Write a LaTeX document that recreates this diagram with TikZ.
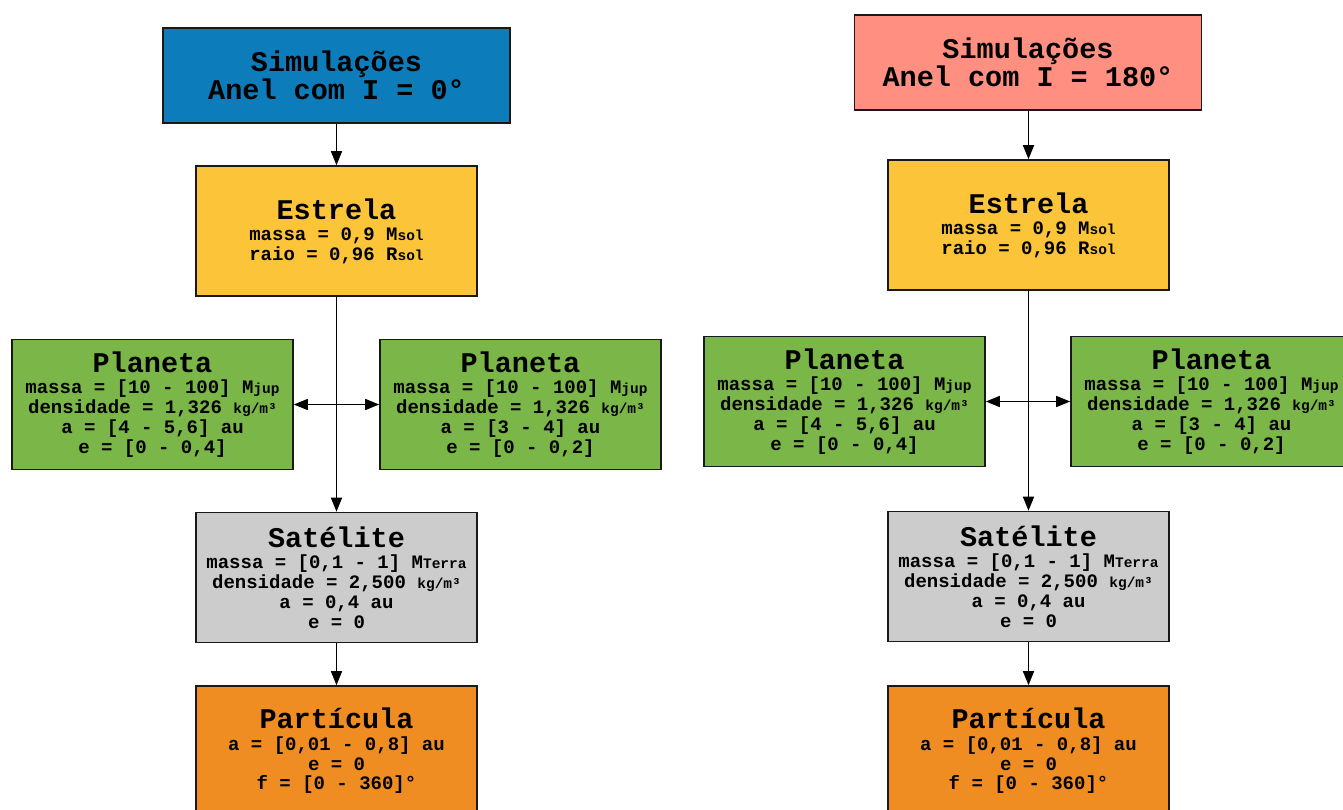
\documentclass[tikz,border=0pt]{standalone}
\usepackage{fontspec}
\usetikzlibrary{arrows.meta}
\newfontfamily\monofam{Liberation Mono}
\definecolor{cblue}{HTML}{0C7CBA}
\definecolor{csalmon}{HTML}{FF8F80}
\definecolor{cyellow}{HTML}{FCC438}
\definecolor{cgreen}{HTML}{7AB648}
\definecolor{cgray}{HTML}{CCCCCC}
\definecolor{corange}{HTML}{EF8D22}
\newcommand\setsz[2]{\fontsize{#1}{#2}\selectfont\spaceskip=0.6em\relax\xspaceskip=0.6em\relax}
\newcommand\bodyfont{\monofam\bfseries\setsz{19}{19.8}}
\newcommand\hd[1]{{\setsz{28.5}{29}#1\par}\vspace{1.5pt}\setsz{19}{19.8}}
\newcommand\sm[1]{{\fontsize{14.5}{15}\selectfont #1}}
\tikzset{
  box/.style={draw=black!90, line width=1.6pt, minimum width=281pt, minimum height=130pt,
    text width=279pt, align=center, inner sep=0pt, font=\bodyfont},
  titlebox/.style={box, minimum width=347pt, minimum height=95pt, text width=340pt},
  arr/.style={line width=1.5pt, -{Triangle[length=14pt,width=11pt]}},
  arrd/.style={line width=1.5pt, {Triangle[length=14pt,width=11pt]}-{Triangle[length=14pt,width=11pt]}},
}
\begin{document}
\begin{tikzpicture}[x=1pt,y=-1pt]
\useasboundingbox (0,0) rectangle (1343,809);
\clip (0,0) rectangle (1343,809);
% ---------- left column ----------
\node[titlebox, fill=cblue] (simL) at (336.5,75.5)
  {\setsz{28.5}{29}Simulações\\Anel com I = 0°};
\node[box, fill=cyellow] (estL) at (336.5,231)
  {\hd{Estrela}massa = 0,9 M\sm{sol}\\raio = 0,96 R\sm{sol}};
\node[box, fill=cgreen] (plaLL) at (152.5,404.5)
  {\hd{Planeta}massa = [10 - 100] M\sm{jup}\\densidade = 1,326 \sm{kg/m³}\\a = [4 - 5,6] au\\e = [0 - 0,4]};
\node[box, fill=cgreen] (plaLR) at (520.5,404.5)
  {\hd{Planeta}massa = [10 - 100] M\sm{jup}\\densidade = 1,326 \sm{kg/m³}\\a = [3 - 4] au\\e = [0 - 0,2]};
\node[box, fill=cgray] (satL) at (336.5,577.5)
  {\hd{Satélite}massa = [0,1 - 1] M\sm{Terra}\\densidade = 2,500 \sm{kg/m³}\\a = 0,4 au\\e = 0};
\node[box, fill=corange] (parL) at (336.5,751)
  {\hd{Partícula}a = [0,01 - 0,8] au\\e = 0\\f = [0 - 360]°};
\draw[arr] (simL) -- (estL);
\draw[arr] (estL) -- (satL);
\draw[arrd] (plaLL) -- (plaLR);
\draw[arr] (satL) -- (parL);
% ---------- right column ----------
\node[titlebox, fill=csalmon] (simR) at (1028,62.5)
  {\setsz{28.5}{29}Simulações\\Anel com I = 180°};
\node[box, fill=cyellow] (estR) at (1028.5,225)
  {\hd{Estrela}massa = 0,9 M\sm{sol}\\raio = 0,96 R\sm{sol}};
\node[box, fill=cgreen] (plaRL) at (844.5,401.5)
  {\hd{Planeta}massa = [10 - 100] M\sm{jup}\\densidade = 1,326 \sm{kg/m³}\\a = [4 - 5,6] au\\e = [0 - 0,4]};
\node[box, fill=cgreen] (plaRR) at (1211.5,401.5)
  {\hd{Planeta}massa = [10 - 100] M\sm{jup}\\densidade = 1,326 \sm{kg/m³}\\a = [3 - 4] au\\e = [0 - 0,2]};
\node[box, fill=cgray] (satR) at (1028.5,576.5)
  {\hd{Satélite}massa = [0,1 - 1] M\sm{Terra}\\densidade = 2,500 \sm{kg/m³}\\a = 0,4 au\\e = 0};
\node[box, fill=corange] (parR) at (1028.5,751)
  {\hd{Partícula}a = [0,01 - 0,8] au\\e = 0\\f = [0 - 360]°};
\draw[arr] (simR.south -| estR) -- (estR);
\draw[arr] (estR) -- (satR);
\draw[arrd] (plaRL) -- (plaRR);
\draw[arr] (satR) -- (parR);
\end{tikzpicture}
\end{document}
